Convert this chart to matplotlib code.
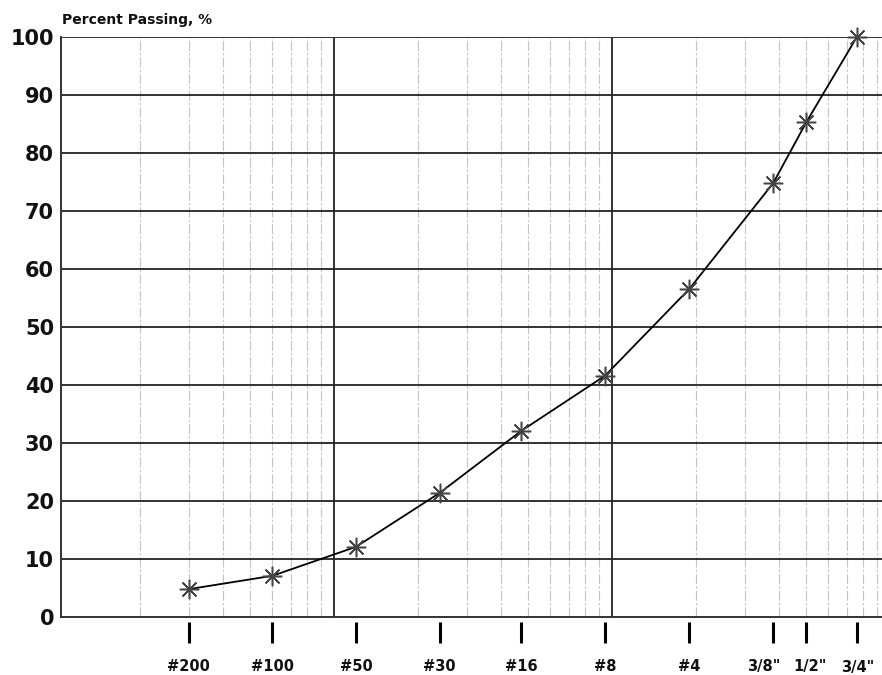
import numpy as np
import matplotlib
matplotlib.use("Agg")
import matplotlib.pyplot as plt
import matplotlib.transforms as mtransforms

# Sieve designations and their openings (mm)
sieve_labels = ["#200", "#100", "#50", "#30", "#16", "#8", "#4", '3/8"', '1/2"', '3/4"']
sieve_mm = [0.075, 0.15, 0.30, 0.60, 1.18, 2.36, 4.75, 9.5, 12.5, 19.0]

# Percent passing for each sieve
percent_passing = [4.8, 7.1, 12.1, 21.4, 32.1, 41.6, 56.6, 74.8, 85.3, 100.0]

y_ticks = list(range(0, 101, 10))

# Log-cycle grid reference value (decade lines fall on multiples of this)
cycle_base = 2.5
x_min, x_max = 0.02605, 23.4

fig = plt.figure(figsize=(8.82, 6.75), dpi=100)
W, H = 882, 675
ax = fig.add_axes([61 / W, (H - 617) / H, (W - 61) / W, 580 / H])
ax.set_xscale("log")
ax.set_xlim(x_min, x_max)
ax.set_ylim(0, 100)

# Log-cycle paper: light lines at 2..9 of each cycle, dark lines at cycle ends
for n in range(-3, 2):
    base = cycle_base * 10.0 ** n
    for k in range(2, 10):
        v = base * k
        if x_min < v < x_max:
            ax.axvline(v, color="#c4c4c4", lw=0.8, ls=(0, (9, 2, 2, 2)), zorder=1)
    if x_min < base < x_max:
        ax.axvline(base, color="#333333", lw=1.4, zorder=2)

for yv in y_ticks[1:]:
    ax.axhline(yv, color="#222222", lw=1.3, zorder=2)

# Frame: left and bottom only
for side in ["top", "right"]:
    ax.spines[side].set_visible(False)
ax.spines["left"].set_color("#333333")
ax.spines["left"].set_linewidth(1.4)
ax.spines["bottom"].set_color("#333333")
ax.spines["bottom"].set_linewidth(1.4)

# Gradation curve
ax.plot(sieve_mm, percent_passing, color="black", lw=1.3, zorder=4, clip_on=False)
ax.plot(sieve_mm, percent_passing, ls="none", marker=(8, 2, 0), ms=14,
        mec="#444444", mew=1.1, zorder=5, clip_on=False)

# Sieve marks below the axis
ax.vlines(sieve_mm, -5 / 580, -26 / 580, transform=ax.get_xaxis_transform(),
          color="black", lw=2.2, clip_on=False)

ax.set_xticks(sieve_mm)
ax.set_xticklabels(sieve_labels)
ax.xaxis.set_minor_locator(matplotlib.ticker.NullLocator())
ax.tick_params(axis="x", length=0, pad=30)
# small nudges so the crowded inch-size labels stay apart
nudges = {'3/8"': (-9, 0), '1/2"': (4, 0), '3/4"': (1, -1.5)}
for lab in ax.get_xticklabels():
    lab.set_fontfamily("DejaVu Sans")
    lab.set_fontweight("bold")
    lab.set_fontsize(10.5)
    lab.set_color("#111111")
    dx, dy = nudges.get(lab.get_text(), (0, 0))
    if dx or dy:
        lab.set_transform(lab.get_transform() +
                          mtransforms.ScaledTranslation(dx / 100, dy / 100, fig.dpi_scale_trans))

ax.set_yticks(y_ticks)
ax.tick_params(axis="y", length=0, pad=5)
for lab in ax.get_yticklabels():
    lab.set_fontfamily("DejaVu Sans")
    lab.set_fontweight("bold")
    lab.set_fontsize(15)
    lab.set_color("#111111")

fig.text(62 / W, 1 - 24 / H, "Percent Passing, %", fontsize=10,
         fontweight="bold", family="DejaVu Sans", color="#111111", va="baseline")

fig.savefig("out.png", dpi=100, facecolor="white")
